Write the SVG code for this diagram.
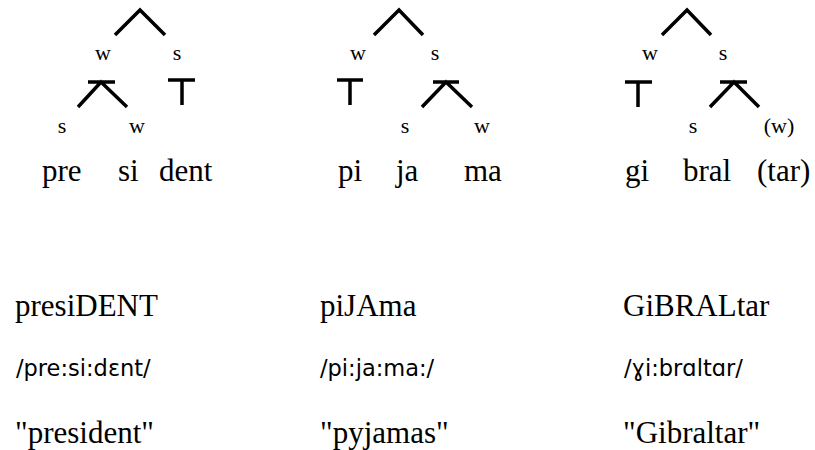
<svg xmlns="http://www.w3.org/2000/svg" width="815" height="450" viewBox="0 0 815 450">
<style>
.bg{fill:#fff}
.lbl{font-family:"Liberation Serif","Times New Roman",serif;font-size:22px;fill:#000;text-anchor:middle}
.syl{font-family:"Liberation Serif","Times New Roman",serif;font-size:31px;fill:#000}
.word{font-family:"Liberation Serif","Times New Roman",serif;font-size:31px;fill:#000}
.ipa{font-family:"DejaVu Sans","Liberation Sans",sans-serif;font-size:22.5px;fill:#000}
.edge{stroke:#000;stroke-width:3.5;fill:none;stroke-linecap:butt;stroke-linejoin:miter}
</style>
<rect class="bg" x="0" y="0" width="815" height="450"/>
<g id="connectors">
  <polyline class="edge" points="115,35 140,10 165,35"/>
  <path class="edge" d="M88,82 H115 M78,107 L101,82 L127,107"/>
  <path class="edge" d="M168,80 H195 M182,80 V105"/>
  <polyline class="edge" points="374,35 399,10 423,35"/>
  <path class="edge" d="M337,80 H363 M350,80 V105"/>
  <path class="edge" d="M433,82 H459 M422,107 L446,82 L472,107"/>
  <polyline class="edge" points="662,35 687,10 711,35"/>
  <path class="edge" d="M625,82 H652 M638,82 V107"/>
  <path class="edge" d="M720,82 H747 M710,107 L734,82 L759,107"/>
</g>
<g id="t1-w"><text class="lbl" x="103" y="60">w</text></g>
<g id="t1-s"><text class="lbl" x="177" y="60">s</text></g>
<g id="t1-ws"><text class="lbl" x="62" y="133">s</text></g>
<g id="t1-ww"><text class="lbl" x="137" y="133">w</text></g>
<g id="t1-syl"><text class="syl" x="42" y="181">pre</text><text class="syl" x="118" y="181">si</text><text class="syl" x="159" y="181">dent</text></g>

<g id="t2-w"><text class="lbl" x="358" y="60">w</text></g>
<g id="t2-s"><text class="lbl" x="435" y="60">s</text></g>
<g id="t2-ss"><text class="lbl" x="405" y="133">s</text></g>
<g id="t2-sw"><text class="lbl" x="482" y="133">w</text></g>
<g id="t2-syl"><text class="syl" x="338" y="181">pi</text><text class="syl" x="396" y="181">ja</text><text class="syl" x="464" y="181">ma</text></g>

<g id="t3-w"><text class="lbl" x="650" y="60">w</text></g>
<g id="t3-s"><text class="lbl" x="723" y="60">s</text></g>
<g id="t3-ss"><text class="lbl" x="693" y="133">s</text></g>
<g id="t3-sw"><text class="lbl" x="779" y="133">(w)</text></g>
<g id="t3-syl"><text class="syl" x="625" y="181">gi</text><text class="syl" x="683" y="181">bral</text><text class="syl" x="757" y="181">(tar)</text></g>

<g id="col1">
  <text class="word" x="15" y="316">presiDENT</text>
  <text class="ipa" x="16" y="376">/pre:si:dɛnt/</text>
  <text class="word" x="15" y="443">"president"</text>
</g>
<g id="col2">
  <text class="word" x="320" y="316">piJAma</text>
  <text class="ipa" x="320" y="376">/pi:ja:ma:/</text>
  <text class="word" x="320" y="443">"pyjamas"</text>
</g>
<g id="col3">
  <text class="word" x="623" y="316">GiBRALtar</text>
  <text class="ipa" x="624" y="376">/ɣi:brɑltɑr/</text>
  <text class="word" x="623" y="443">"Gibraltar"</text>
</g>
</svg>
